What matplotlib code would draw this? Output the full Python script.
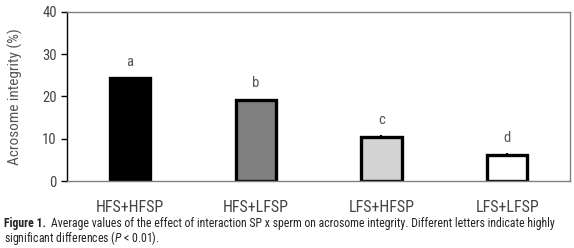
import matplotlib
matplotlib.use('Agg')
import matplotlib.pyplot as plt
import numpy as np

groups = ['HFS+HFSP', 'HFS+LFSP', 'LFS+HFSP', 'LFS+LFSP']
means = [24.3, 19.2, 10.5, 6.2]
errs = [0.3, 0.3, 0.3, 0.4]
letters = ['a', 'b', 'c', 'd']
fills = ['#000000', '#808080', '#d3d3d3', '#ffffff']

plt.rcParams['font.family'] = ['Roboto Condensed', 'DejaVu Sans']
plt.rcParams['mathtext.fontset'] = 'custom'
plt.rcParams['mathtext.it'] = 'Roboto Condensed:italic'

fig = plt.figure(figsize=(5.74, 2.48), dpi=100)
ax = fig.add_axes([0.117, 0.270, 0.876, 0.682])

x = np.arange(len(groups))
ax.bar(x, means, width=0.32, color=fills, edgecolor='black', linewidth=2.4)
ax.errorbar(x, means, yerr=errs, fmt='none', ecolor='black', elinewidth=1.5,
            capsize=0)
for xi, m, e, l in zip(x, means, errs, letters):
    ax.text(xi, m + e + 2.0, l, ha='center', va='bottom', fontsize=10.5,
            color='#555555')

ax.set_xlim(-0.5, 3.5)
ax.set_ylim(0, 40)
ax.set_yticks([0, 10, 20, 30, 40])
ax.set_xticks(x)
ax.set_xticklabels(groups, fontsize=11.5, color='#444444')
ax.tick_params(axis='x', length=0, pad=14)
ax.tick_params(axis='y', labelsize=10.5, labelcolor='#444444', length=4,
               width=1, direction='out')
ax.set_ylabel('Acrosome integrity (%)', fontsize=11, color='#555555',
              labelpad=14)
for s in ['top', 'right', 'bottom']:
    ax.spines[s].set_color('#808080')
    ax.spines[s].set_linewidth(1)
ax.spines['left'].set_color('black')
ax.spines['left'].set_linewidth(1)

# caption
t1 = fig.text(0.007, 0.085, 'Figure 1.', fontsize=8.5, fontweight='bold',
              color='#222222', va='baseline')
fig.canvas.draw()
bb = t1.get_window_extent()
x2 = (bb.x1 + 5) / fig.bbox.width
fig.text(x2, 0.085, 'Average values of the effect of interaction SP x sperm on '
         'acrosome integrity. Different letters indicate highly',
         fontsize=8.5, color='#222222', va='baseline')
fig.text(0.007, 0.025, 'significant differences ($\\it{P}$ < 0.01).',
         fontsize=8.5, color='#222222', va='baseline')

fig.savefig('out.png', dpi=100)
